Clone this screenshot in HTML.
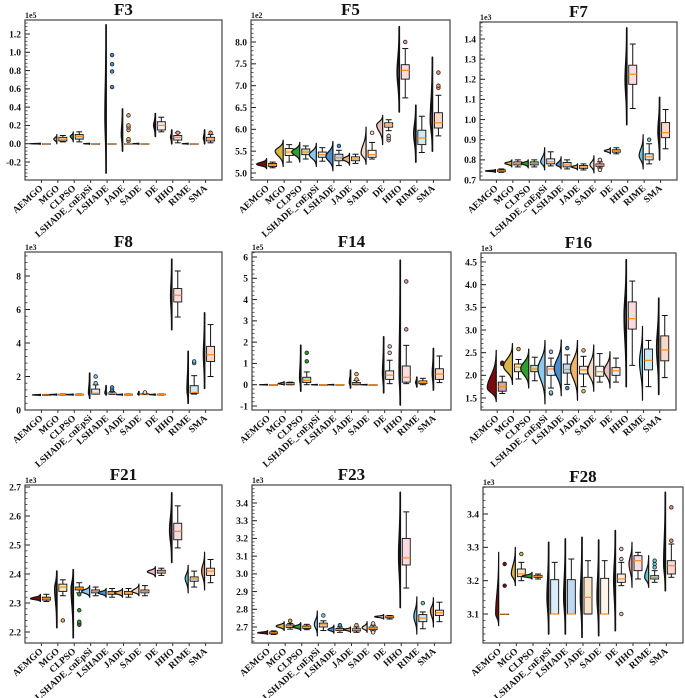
<!DOCTYPE html>
<html><head><meta charset="utf-8">
<style>
html,body{margin:0;padding:0;background:#fff;}
svg{display:block;font-family:"Liberation Serif",serif;}
</style></head>
<body>
<svg id="fig" width="685" height="698" viewBox="0 0 685 698" xmlns="http://www.w3.org/2000/svg"></svg>
<script>
const categories=["AEMGO","MGO","CLPSO","LSHADE_cnEpSi","LSHADE","JADE","SADE","DE","HHO","RIME","SMA"];
const catColors=["#7a0c0c","#d8b64a","#2f9e2f","#8ec8ee","#4a8fd2","#f0b46a","#f6dcc6","#e8c2b8","#f29aa4","#6cc4d6","#f08e66"];
// rows: [violinLo, violinHi, violinPeak, violinWidthPx, whiskLo, q1, median, q3, whiskHi]
const F3_stats=[[-0.006,0.006,0,10,0,0,0,0,0],[0,0.1,0.05,3,0.02,0.03,0.05,0.07,0.09],[0.02,0.13,0.08,3,0.02,0.05,0.08,0.1,0.13],[-0.006,0.006,0,6,0,0,0,0,0],[-0.32,1.3,0.3,1,0,0,0,0,0],[-0.08,0.38,0.1,1,0,0,0,0,0],[-0.006,0.006,0,6,0,0,0,0,0],[0.08,0.33,0.2,1.5,0.13,0.15,0.2,0.24,0.29],[0,0.15,0.07,1,0.01,0.04,0.07,0.09,0.12],[-0.006,0.006,0,6,0,0,0,0,0],[0,0.15,0.06,1,0.01,0.03,0.05,0.07,0.1]];
const F3_out=[[],[],[],[],[0.62,0.79,0.87,0.97],[0.03,0.05,0.15,0.18,0.2,0.31],[],[],[0.12],[],[0.12]];
const F3_ticks=[-0.2,0,0.2,0.4,0.6,0.8,1.0,1.2];
const F3_tickLabels=["-0.2","0.0","0.2","0.4","0.6","0.8","1.0","1.2"];

const F5_stats=[[5.1,5.33,5.2,10,5.12,5.15,5.19,5.22,5.25],[5.15,5.75,5.5,8,5.25,5.4,5.48,5.56,5.65],[5.25,5.7,5.48,8,5.32,5.42,5.48,5.55,5.62],[5.15,5.68,5.42,7,5.27,5.36,5.42,5.48,5.58],[5.05,5.72,5.38,7,5.17,5.28,5.35,5.43,5.52],[5.18,5.45,5.32,7,5.22,5.28,5.32,5.37,5.43],[5.2,6.05,5.45,5,5.32,5.36,5.42,5.52,5.7],[5.65,6.32,6.1,6,5.97,6.05,6.1,6.15,6.22],[6.4,8.35,7.3,2,6.72,7.15,7.35,7.48,7.85],[5.25,6.55,5.9,2,5.47,5.65,5.8,5.98,6.3],[5.5,7.65,6.2,2,5.85,6.03,6.15,6.38,6.78]];
const F5_out=[[],[],[],[],[5.62],[],[5.92],[5.75,5.8,5.85],[8.0],[],[6.95,7.0,7.3]];
const F5_ticks=[5.0,5.5,6.0,6.5,7.0,7.5,8.0];
const F5_tickLabels=["5.0","5.5","6.0","6.5","7.0","7.5","8.0"];

const F7_stats=[[0.738,0.752,0.745,10,0.738,0.742,0.745,0.75,0.755],[0.765,0.8,0.783,7,0.765,0.775,0.782,0.79,0.8],[0.76,0.8,0.783,7,0.765,0.775,0.782,0.79,0.8],[0.75,0.86,0.79,4,0.77,0.78,0.79,0.805,0.84],[0.755,0.815,0.775,5,0.755,0.765,0.775,0.787,0.8],[0.75,0.78,0.765,6,0.75,0.758,0.765,0.772,0.78],[0.735,0.82,0.775,4,0.76,0.768,0.773,0.78,0.79],[0.83,0.86,0.845,6,0.83,0.838,0.845,0.85,0.86],[0.975,1.455,1.2,1.5,1.055,1.175,1.225,1.27,1.375],[0.755,0.925,0.82,4,0.78,0.8,0.815,0.83,0.88],[0.8,1.11,0.94,1.5,0.855,0.91,0.935,0.985,1.05]];
const F7_out=[[],[],[],[],[],[],[0.75,0.8],[],[],[0.9],[]];
const F7_ticks=[0.7,0.8,0.9,1.0,1.1,1.2,1.3,1.4];
const F7_tickLabels=["0.7","0.8","0.9","1.0","1.1","1.2","1.3","1.4"];

const F8_stats=[[0.86,0.94,0.9,8,0.87,0.88,0.9,0.92,0.93],[0.88,0.96,0.92,7,0.89,0.9,0.92,0.94,0.95],[0.88,0.96,0.92,7,0.89,0.9,0.92,0.94,0.95],[0.7,2.2,1.0,1,0.95,0.95,1.0,1.25,1.5],[0.9,1.45,1.0,1,0.93,0.95,0.98,1.02,1.1],[0.88,0.96,0.92,6,0.89,0.9,0.92,0.94,0.95],[0.9,1.1,0.95,1,0.92,0.93,0.95,0.98,1.0],[0.88,0.96,0.92,6,0.89,0.9,0.92,0.94,0.95],[4.8,9.0,6.8,1,5.55,6.45,6.85,7.25,8.3],[0.4,3.5,1.2,1,0.95,1.0,1.05,1.45,2.05],[1.3,5.8,3.3,1,2.0,2.9,3.3,3.8,5.1]];
const F8_out=[[],[],[],[1.6,2.0],[1.2,1.35],[],[1.05],[],[],[2.8,2.9],[]];
const F8_ticks=[0,2,4,6,8];
const F8_tickLabels=["0","2","4","6","8"];

const F14_stats=[[-0.02,0.02,0,8,0,0,0,0,0],[-0.02,0.15,0.05,6,0,0,0.05,0.1,0.12],[-0.3,1.85,0.3,1,0,0.1,0.2,0.35,0.6],[-0.02,0.02,0,6,0,0,0,0,0],[-0.02,0.02,0,6,0,0,0,0,0],[-0.15,0.68,0.1,1,0,0,0.05,0.1,0.2],[-0.02,0.02,0,6,0,0,0,0,0],[-0.38,2.25,0.5,1,0.05,0.25,0.45,0.65,1.15],[-0.95,5.85,0.5,1,0.05,0.12,0.35,0.88,1.85],[-0.1,0.35,0.1,1,0,0.05,0.1,0.18,0.3],[-0.25,1.7,0.5,1,0.1,0.25,0.5,0.75,1.35]];
const F14_out=[[],[],[1.1,1.5],[],[],[0.25,0.5],[],[1.5,1.8],[2.6,4.85],[],[]];
const F14_ticks=[-1,0,1,2,3,4,5,6];
const F14_tickLabels=["-1","0","1","2","3","4","5","6"];

const F16_stats=[[1.42,2.55,1.72,9,1.6,1.65,1.75,1.85,1.98],[1.8,2.7,2.2,9,1.92,2.08,2.18,2.25,2.35],[1.72,2.58,2.15,8,1.88,2.08,2.14,2.22,2.4],[1.37,2.77,2.15,7,1.72,2.0,2.14,2.2,2.38],[1.55,2.78,2.15,7,1.8,2.05,2.13,2.25,2.45],[1.45,2.77,2.15,7,1.75,2.03,2.12,2.2,2.42],[1.65,2.67,2.1,6,1.85,1.98,2.08,2.2,2.48],[1.72,2.52,2.1,6,1.85,2.0,2.1,2.17,2.38],[1.75,4.55,3.3,2,2.22,3.02,3.25,3.62,4.08],[1.45,3.08,2.3,3,1.75,2.12,2.33,2.58,2.77],[1.58,3.7,2.6,2,1.95,2.32,2.56,2.87,3.32]];
const F16_out=[[2.25,2.28],[2.58],[],[1.6,1.62,2.52],[1.72,2.6],[1.65,2.55],[],[],[],[],[]];
const F16_ticks=[1.5,2.0,2.5,3.0,3.5,4.0,4.5];
const F16_tickLabels=["1.5","2.0","2.5","3.0","3.5","4.0","4.5"];

const F21_stats=[[2.305,2.33,2.315,10,2.305,2.31,2.315,2.32,2.33],[2.215,2.41,2.35,2,2.325,2.34,2.355,2.365,2.38],[2.18,2.415,2.35,2,2.335,2.345,2.35,2.355,2.37],[2.32,2.36,2.34,8,2.325,2.335,2.34,2.345,2.355],[2.32,2.35,2.335,8,2.32,2.33,2.335,2.34,2.35],[2.32,2.35,2.335,8,2.32,2.33,2.335,2.34,2.35],[2.325,2.365,2.34,7,2.325,2.335,2.34,2.345,2.36],[2.39,2.425,2.408,8,2.395,2.403,2.408,2.413,2.42],[2.44,2.68,2.55,2,2.49,2.518,2.547,2.575,2.635],[2.335,2.43,2.385,3,2.355,2.375,2.383,2.39,2.41],[2.345,2.475,2.41,3,2.37,2.395,2.41,2.42,2.45]];
const F21_out=[[],[2.24],[2.225,2.23,2.235,2.275,2.33],[],[],[],[],[],[],[],[]];
const F21_ticks=[2.2,2.3,2.4,2.5,2.6,2.7];
const F21_tickLabels=["2.2","2.3","2.4","2.5","2.6","2.7"];

const F23_stats=[[2.658,2.68,2.667,10,2.658,2.662,2.667,2.672,2.678],[2.68,2.73,2.705,8,2.688,2.698,2.705,2.712,2.72],[2.68,2.725,2.7,8,2.685,2.692,2.7,2.706,2.715],[2.65,2.79,2.715,3,2.68,2.7,2.712,2.722,2.735],[2.665,2.71,2.685,6,2.67,2.68,2.685,2.692,2.7],[2.67,2.7,2.685,7,2.67,2.678,2.685,2.69,2.7],[2.67,2.73,2.695,5,2.678,2.685,2.692,2.7,2.71],[2.745,2.77,2.758,9,2.745,2.752,2.758,2.762,2.765],[2.81,3.46,3.1,1.5,2.92,3.05,3.09,3.2,3.35],[2.66,2.87,2.76,3,2.69,2.73,2.75,2.77,2.785],[2.7,2.865,2.79,3,2.73,2.765,2.78,2.795,2.84]];
const F23_out=[[],[2.735],[],[2.765],[2.71],[2.71],[2.67,2.72],[],[],[2.835],[]];
const F23_ticks=[2.7,2.8,2.9,3.0,3.1,3.2,3.3,3.4];
const F23_tickLabels=["2.7","2.8","2.9","3.0","3.1","3.2","3.3","3.4"];

const F28_stats=[[3.065,3.285,3.1,3,3.1,3.1,3.1,3.1,3.1],[3.185,3.3,3.22,4,3.2,3.212,3.22,3.235,3.255],[3.205,3.225,3.213,10,3.205,3.21,3.213,3.216,3.22],[3.04,3.315,3.15,1.5,3.1,3.1,3.1,3.203,3.255],[3.04,3.325,3.15,1.5,3.1,3.1,3.1,3.203,3.265],[3.03,3.33,3.15,1.5,3.1,3.1,3.15,3.21,3.26],[3.035,3.322,3.15,1.5,3.1,3.1,3.1,3.207,3.26],[3.05,3.35,3.2,1.5,3.185,3.195,3.205,3.22,3.255],[3.18,3.315,3.25,3,3.205,3.23,3.26,3.275,3.285],[3.18,3.275,3.21,4,3.195,3.205,3.21,3.215,3.23],[3.17,3.465,3.25,1.5,3.21,3.22,3.245,3.26,3.31]];
const F28_out=[[3.185,3.25],[3.28],[],[],[],[],[],[3.1,3.265,3.295],[],[3.24,3.25,3.26],[3.32,3.42]];
const F28_ticks=[3.1,3.2,3.3,3.4];
const F28_tickLabels=["3.1","3.2","3.3","3.4"];

const panels=[
 {name:"F3",exp:"1e5",fr:[25,20,222,180],a:[-0.2,162],b:[1.2,34],st:F3_stats,out:F3_out,tk:F3_ticks,tl:F3_tickLabels},
 {name:"F5",exp:"1e2",fr:[251,20,450,180],a:[5.0,173],b:[8.0,42],st:F5_stats,out:F5_out,tk:F5_ticks,tl:F5_tickLabels},
 {name:"F7",exp:"1e3",fr:[480,22,677,180],a:[0.7,180],b:[1.4,39],st:F7_stats,out:F7_out,tk:F7_ticks,tl:F7_tickLabels},
 {name:"F8",exp:"1e3",fr:[25,252,222,410],a:[0,410],b:[8,276],st:F8_stats,out:F8_out,tk:F8_ticks,tl:F8_tickLabels},
 {name:"F14",exp:"1e5",fr:[252,252,451,410],a:[-1,406],b:[6,257],st:F14_stats,out:F14_out,tk:F14_ticks,tl:F14_tickLabels},
 {name:"F16",exp:"1e3",fr:[481,253,676,410],a:[1.5,398],b:[4.5,262],st:F16_stats,out:F16_out,tk:F16_ticks,tl:F16_tickLabels},
 {name:"F21",exp:"1e3",fr:[25,485,222,643],a:[2.2,632],b:[2.7,487],st:F21_stats,out:F21_out,tk:F21_ticks,tl:F21_tickLabels},
 {name:"F23",exp:"1e3",fr:[252,485,451,643],a:[2.7,627],b:[3.4,503],st:F23_stats,out:F23_out,tk:F23_ticks,tl:F23_tickLabels},
 {name:"F28",exp:"1e3",fr:[483,487,683,643],a:[3.1,614],b:[3.4,514],st:F28_stats,out:F28_out,tk:F28_ticks,tl:F28_tickLabels}
];

const NS="http://www.w3.org/2000/svg";
const svg=document.getElementById("fig");
function mk(tag,attrs,parent){const e=document.createElementNS(NS,tag);for(const k in attrs)e.setAttribute(k,attrs[k]);(parent||svg).appendChild(e);return e;}

panels.forEach(p=>{
  const g=mk("g",{});
  
  
  const [x0,y0,x1,y1]=p.fr;
  const ys=(p.b[1]-p.a[1])/(p.b[0]-p.a[0]);
  const Y=v=>p.a[1]+(v-p.a[0])*ys;
  const X=i=>x0+(i+1)*(x1-x0)/12;
  const dmin=p.a[0]+(y1-p.a[1])/ys, dmax=p.a[0]+(y0-p.a[1])/ys;
  const t=mk("text",{x:(x0+x1)/2,y:y0-5,"text-anchor":"middle","font-size":"17","font-weight":"bold",fill:"#111"},g);
  t.textContent=p.name;
  
  
  const ex=mk("text",{x:x0,y:y0-2,"font-size":"8","font-weight":"bold",fill:"#222"},g);
  ex.textContent=p.exp;
  
  
  const step=p.tk[1]-p.tk[0], minor=step/5;
  for(let v=Math.ceil(dmin/minor)*minor; v<=dmax; v+=minor){
    const yy=Y(v);
    mk("line",{x1:x0,x2:x0+2.5,y1:yy,y2:yy,stroke:"#333","stroke-width":0.8},g);
  }
  p.tk.forEach((v,i)=>{
    const yy=Y(v);
    mk("line",{x1:x0,x2:x0+5,y1:yy,y2:yy,stroke:"#222","stroke-width":1},g);
    const tl=mk("text",{x:x0-4,y:yy+3.3,"text-anchor":"end","font-size":"9.5","font-weight":"bold",fill:"#111"},g);
    tl.textContent=p.tl[i];
    
    
  });
  const cid="clip"+p.name;
  const cp=mk("clipPath",{id:cid},g);
  mk("rect",{x:x0,y:y0,width:x1-x0,height:y1-y0},cp);
  const pg=mk("g",{"clip-path":"url(#"+cid+")"},g);
  categories.forEach((c,i)=>{
    const s=p.st[i], xc=X(i), col=catColors[i];
    const cg=mk("g",{},pg);
    
    
    const [vlo,vhi,vpk,vw,wlo,q1,med,q3,whi]=s;
    const ve=xc-1;
    let d="M"+ve+","+Y(vlo);
    const N=40;
    for(let k=0;k<=N;k++){
      const v=vlo+(vhi-vlo)*k/N;
      const sg=v<vpk?Math.max((vpk-vlo)/2.2,1e-9):Math.max((vhi-vpk)/2.2,1e-9);
      const w=vw*Math.exp(-Math.pow((v-vpk)/sg,2));
      d+=" L"+(ve-w).toFixed(2)+","+Y(v).toFixed(2);
    }
    d+=" L"+ve+","+Y(vhi)+" Z";
    const vp=mk("path",{d:d,fill:col,stroke:"#111","stroke-width":vw<=2?1.7:1.2,"stroke-linejoin":"round"},cg);
    
    
    const bx=xc+1, bw=8, bc=bx+bw/2;
    mk("line",{x1:bc,x2:bc,y1:Y(wlo),y2:Y(q1),stroke:"#111","stroke-width":1},cg);
    mk("line",{x1:bc,x2:bc,y1:Y(q3),y2:Y(whi),stroke:"#111","stroke-width":1},cg);
    mk("line",{x1:bc-3,x2:bc+3,y1:Y(wlo),y2:Y(wlo),stroke:"#111","stroke-width":1},cg);
    mk("line",{x1:bc-3,x2:bc+3,y1:Y(whi),y2:Y(whi),stroke:"#111","stroke-width":1},cg);
    const bh=Math.max(Y(q1)-Y(q3),0.5);
    const br=mk("rect",{x:bx,y:Y(q3),width:bw,height:bh,fill:col,"fill-opacity":0.35,stroke:"#111","stroke-width":0.9},cg);
    
    
    mk("line",{x1:bx,x2:bx+bw,y1:Y(med),y2:Y(med),stroke:"#ff8c1a","stroke-width":1.2},cg);
    p.out[i].forEach(o=>{
      const oc=mk("circle",{cx:bc,cy:Y(o),r:1.8,fill:col,stroke:"#222","stroke-width":0.8},cg);
      
      
    });
  });
  const fr=mk("rect",{x:x0,y:y0,width:x1-x0,height:y1-y0,fill:"none",stroke:"#444","stroke-width":1.2},g);
  
  
  categories.forEach((c,i)=>{
    const xc=X(i);
    mk("line",{x1:xc,x2:xc,y1:y1,y2:y1+3,stroke:"#333","stroke-width":1},g);
    const lt=mk("text",{x:xc+2,y:y1+9,"text-anchor":"end","font-size":"9.5","font-weight":"bold",fill:"#111",transform:"rotate(-42 "+(xc+2)+" "+(y1+9)+")"},g);
    lt.textContent=c;
    
    
  });
});
</script>
</body></html>
